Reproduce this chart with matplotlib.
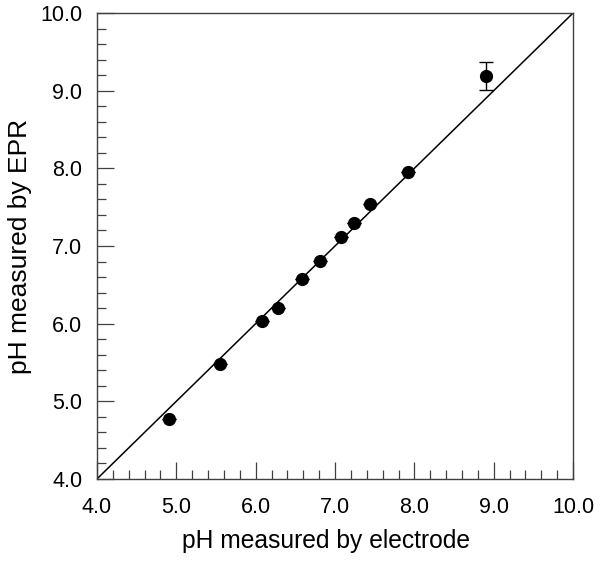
import matplotlib
matplotlib.use("Agg")
import matplotlib.pyplot as plt
from matplotlib.ticker import MultipleLocator, FormatStrFormatter

ph_electrode = [4.91, 5.55, 6.08, 6.28, 6.59, 6.81, 7.08, 7.24, 7.44, 7.92, 8.90]
ph_epr = [4.77, 5.48, 6.03, 6.20, 6.57, 6.81, 7.12, 7.30, 7.54, 7.95, 9.19]
epr_err = [0, 0, 0, 0, 0, 0, 0, 0, 0, 0, 0.185]
identity = [4.0, 10.0]

plt.rcParams['font.family'] = ['Liberation Sans', 'DejaVu Sans']

fig = plt.figure(figsize=(6.02, 5.64), dpi=100)
ax = fig.add_axes([0.161, 0.1507, 0.791, 0.8263])

ax.plot(identity, identity, color='black', lw=1.1, zorder=2)
ax.errorbar(ph_electrode, ph_epr, yerr=epr_err, fmt='o', color='black',
            ms=8.5, capsize=4.7, elinewidth=1.0, capthick=1.0, zorder=3)

ax.set_xlim(4, 10)
ax.set_ylim(4, 10)
ax.xaxis.set_major_locator(MultipleLocator(1))
ax.xaxis.set_minor_locator(MultipleLocator(0.2))
ax.yaxis.set_major_locator(MultipleLocator(1))
ax.yaxis.set_minor_locator(MultipleLocator(0.2))
ax.xaxis.set_major_formatter(FormatStrFormatter('%.1f'))
ax.yaxis.set_major_formatter(FormatStrFormatter('%.1f'))

spine_c = '#404040'
for s in ax.spines.values():
    s.set_color(spine_c)
    s.set_linewidth(1.0)

ax.tick_params(which='both', direction='in', top=False, right=False,
               color=spine_c, width=0.9, labelsize=15.5)
ax.tick_params(which='major', length=12.5)
ax.tick_params(which='minor', length=6.5)
ax.tick_params(axis='x', which='major', pad=13)
ax.tick_params(axis='y', which='major', pad=10.5)

ax.set_xlabel('pH measured by electrode', fontsize=17.7)
ax.set_ylabel('pH measured by EPR', fontsize=19, labelpad=6)
ax.xaxis.set_label_coords(0.482, -0.108)

fig.savefig('out.png', dpi=100)
